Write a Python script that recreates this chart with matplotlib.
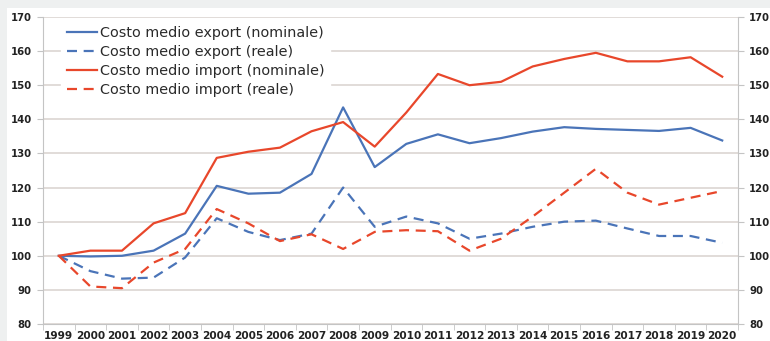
import matplotlib.pyplot as plt
from matplotlib.patches import Rectangle
import numpy as np

years = [str(y) for y in range(1999, 2021)]

export_nominale = [100, 99.8, 100, 101.5, 106.5, 120.5, 118.2, 118.5, 124, 143.5, 126,
                   132.8, 135.6, 133, 134.5, 136.4, 137.7, 137.2, 136.9, 136.6, 137.5, 133.8]
export_reale = [100, 95.5, 93.3, 93.6, 99.5, 111, 107, 104.6, 106.5, 120, 108.5,
                111.5, 109.5, 105, 106.5, 108.5, 110, 110.3, 108, 105.8, 105.8, 103.8]
import_nominale = [100, 101.5, 101.5, 109.5, 112.5, 128.7, 130.5, 131.7, 136.5, 139.2, 132,
                   142, 153.3, 150, 151, 155.5, 157.7, 159.5, 157, 157, 158.2, 152.5]
import_reale = [100, 91, 90.5, 98, 102, 113.7, 109.5, 104.3, 106.3, 102, 107,
                107.5, 107.2, 101.5, 105, 111.5, 118.5, 125.5, 118.5, 115, 117, 119]

BLUE = '#4a74b8'
RED = '#e8472b'
GRID = '#dcd6d2'
AXIS = '#c4c4c4'

plt.rcParams['font.family'] = ['DejaVu Sans']

fig = plt.figure(figsize=(7.7, 3.41), dpi=100, facecolor='#eef0f0')
# white panel behind the chart
fig.patches.append(Rectangle((7 / 770, 0), 1, 1 - 8 / 341, transform=fig.transFigure,
                             facecolor='white', edgecolor='none', zorder=-10))

ax = fig.add_axes([43 / 770, 1 - 324 / 341, (738 - 43) / 770, (324 - 17) / 341])
ax.set_facecolor('white')

x = np.arange(len(years))
dash = (0, (4.5, 3))
ax.plot(x, export_nominale, color=BLUE, lw=1.6, label='Costo medio export (nominale)')
ax.plot(x, export_reale, color=BLUE, lw=1.6, ls=dash, label='Costo medio export (reale)')
ax.plot(x, import_nominale, color=RED, lw=1.6, label='Costo medio import (nominale)')
ax.plot(x, import_reale, color=RED, lw=1.6, ls=dash, label='Costo medio import (reale)')

ax.set_xlim(-0.5, len(years) - 0.5)
ax.set_ylim(80, 170)
ax.set_yticks(range(80, 171, 10))
ax.yaxis.grid(True, color=GRID, lw=1.2)
ax.set_axisbelow(True)

ax.set_xticks(x)
ax.set_xticklabels(years, fontsize=7.6, fontweight='bold', color='#222222')
ax.set_xticks(np.arange(-0.5, len(years), 1), minor=True)
ax.tick_params(axis='x', which='major', length=0, pad=5)
ax.tick_params(axis='x', which='minor', length=4, color=AXIS)
ax.tick_params(axis='y', labelsize=7.3, colors='#222222', length=4, color=AXIS,
               labelright=True, right=True, pad=4)
for lbl in ax.get_yticklabels():
    lbl.set_fontweight('bold')

ax.spines['top'].set_visible(False)
for side in ['left', 'right', 'bottom']:
    ax.spines[side].set_color(AXIS)

leg = ax.legend(loc='upper left', bbox_to_anchor=(0.026, 0.989), fontsize=10.4,
                frameon=True, framealpha=1, edgecolor='white', facecolor='white',
                fancybox=False, handlelength=2.1, handletextpad=0.2,
                labelspacing=0.35, borderpad=0.4, borderaxespad=0)
for t in leg.get_texts():
    t.set_color('#2a2a2a')

fig.savefig('out.png', dpi=100, facecolor=fig.get_facecolor())
